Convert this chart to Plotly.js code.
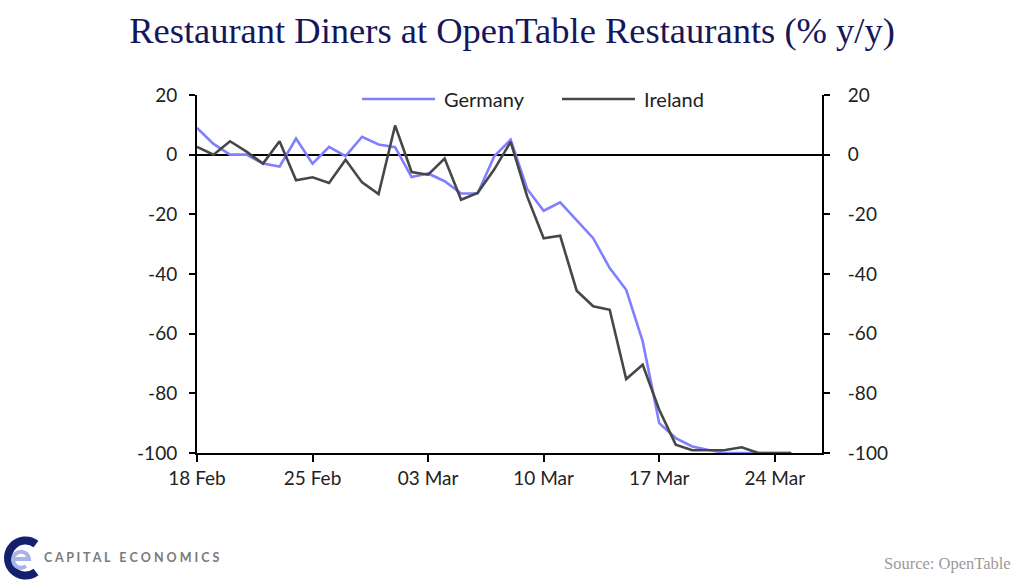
<!DOCTYPE html>
<html>
<head>
<meta charset="utf-8">
<script src="https://cdn.plot.ly/plotly-3.0.1.min.js"></script>
<style>html,body{margin:0;padding:0;background:#fff;}#chart{width:1024px;height:583px;}</style>
</head>
<body>
<div id="chart"></div>
<script>
// Daily dates, 18 Feb 2020 – 25 Mar 2020
const dates = ["2020-02-18","2020-02-19","2020-02-20","2020-02-21","2020-02-22","2020-02-23","2020-02-24","2020-02-25","2020-02-26","2020-02-27","2020-02-28","2020-02-29","2020-03-01","2020-03-02","2020-03-03","2020-03-04","2020-03-05","2020-03-06","2020-03-07","2020-03-08","2020-03-09","2020-03-10","2020-03-11","2020-03-12","2020-03-13","2020-03-14","2020-03-15","2020-03-16","2020-03-17","2020-03-18","2020-03-19","2020-03-20","2020-03-21","2020-03-22","2020-03-23","2020-03-24","2020-03-25"];
const germany = [9,3.6,0,0,-3,-4,5.4,-3,2.6,-0.5,6,3.4,2.5,-7.5,-6.3,-8.9,-13,-13,-0.6,5,-11.5,-18.8,-16,-22,-28,-38,-45.3,-62.6,-90,-95,-97.8,-99,-100,-100,-100,-100,-100];
const ireland = [2.6,0,4.5,1,-3,4.5,-8.6,-7.6,-9.5,-1.7,-9.3,-13.2,9.8,-5.8,-6.7,-1.3,-15.1,-12.8,-5,4.3,-14,-28,-27.2,-45.6,-50.8,-52,-75.2,-70.4,-85.5,-97.2,-99.1,-99,-99,-98.1,-100,-100,-100];
const xTickVals = ["2020-02-18","2020-02-25","2020-03-03","2020-03-10","2020-03-17","2020-03-24"];
const xTickText = ["18 Feb","25 Feb","03 Mar","10 Mar","17 Mar","24 Mar"];
const yTickVals = [-100,-80,-60,-40,-20,0,20];
const yTickText = ["-100","-80","-60","-40","-20","0","20"];
const seriesNames = ["Germany","Ireland"];
const seriesColors = ["#7f7fff","#474747"];
const titleText = "Restaurant Diners at OpenTable Restaurants (% y/y)";
const sourceText = "Source: OpenTable";
const brandText = "CAPITAL ECONOMICS";

const W = 1024, H = 583, L = 197, R = 822, T = 95, B = 453;
const px2x = p => (p - L) / (R - L);
const px2y = p => (B - p) / (B - T);

const tickFont = {family: "Lato, 'Open Sans', sans-serif", size: 19, color: "#222"};

const traces = [
  {x: dates, y: germany, name: seriesNames[0], type: "scatter", mode: "lines",
   line: {color: seriesColors[0], width: 2.6}},
  {x: dates, y: ireland, name: seriesNames[1], type: "scatter", mode: "lines", yaxis: "y2",
   line: {color: seriesColors[1], width: 2.6}}
];

const logoSvg = '<svg xmlns="http://www.w3.org/2000/svg" width="42" height="44" viewBox="0 0 42 44">' +
  '<path d="M35 8 A17.5 17.5 0 1 0 35 36" fill="none" stroke="#14206b" stroke-width="8"/>' +
  '<path d="M14 23 H28 A8 8 0 1 0 25 30" fill="none" stroke="#a9b4e6" stroke-width="4"/>' +
  '</svg>';

const brandSpaced = brandText.split(" ").map(w => w.split("").join(" ")).join("   ");

// legend drawn as line samples + labels
const legendLineStart = [362, 562];
const legendShapes = seriesNames.map((n, i) => ({
  type: "line", xref: "paper", yref: "paper",
  x0: px2x(legendLineStart[i]), x1: px2x(legendLineStart[i] + 73),
  y0: px2y(99), y1: px2y(99), line: {color: seriesColors[i], width: 2.6}
}));
const legendLabels = seriesNames.map((n, i) => ({
  text: n, xref: "paper", yref: "paper", x: px2x(legendLineStart[i] + 80), y: px2y(99),
  xanchor: "left", yanchor: "middle", showarrow: false,
  font: {family: "Lato, sans-serif", size: 20, color: "#222"}
}));

const layout = {
  width: W, height: H,
  margin: {l: L, r: W - R, t: T, b: H - B, pad: 0},
  paper_bgcolor: "#fff", plot_bgcolor: "#fff",
  showlegend: false,
  title: {text: titleText, x: 0.5, xref: "container", xanchor: "center",
          y: 1 - 30 / H, yref: "container", yanchor: "middle",
          font: {family: "'Liberation Serif', 'DejaVu Serif', serif", size: 36.5, color: "#16165a"}},
  xaxis: {type: "date", range: ["2020-02-18", "2020-03-26 20:40"],
          tickvals: xTickVals, ticktext: xTickText,
          showline: true, linecolor: "#000", linewidth: 2, mirror: false,
          ticks: "outside", ticklen: 7, tickwidth: 2, tickcolor: "#000",
          showgrid: false, zeroline: false, tickfont: tickFont, fixedrange: true},
  yaxis: {range: [-100, 20], tickvals: yTickVals, ticktext: yTickText, showline: true, linecolor: "#000", linewidth: 2,
          ticks: "outside", ticklen: 6, tickwidth: 2, tickcolor: "#000",
          showgrid: false, zeroline: true, zerolinecolor: "#000", zerolinewidth: 2,
          tickfont: tickFont, ticklabelstandoff: 8, fixedrange: true},
  yaxis2: {range: [-100, 20], tickvals: yTickVals, ticktext: yTickText, overlaying: "y", side: "right",
           showline: true, linecolor: "#000", linewidth: 2,
           ticks: "outside", ticklen: 6, tickwidth: 2, tickcolor: "#000",
           showgrid: false, zeroline: false, tickfont: tickFont, ticklabelstandoff: 14, fixedrange: true},
  shapes: legendShapes,
  images: [{source: "data:image/svg+xml;base64," + btoa(logoSvg),
            xref: "paper", yref: "paper", x: px2x(1), y: px2y(536),
            sizex: 42 / (R - L), sizey: 44 / (B - T), xanchor: "left", yanchor: "top",
            sizing: "stretch", layer: "above"}],
  annotations: legendLabels.concat([
    {text: "<b>" + brandSpaced + "</b>", xref: "paper", yref: "paper", x: px2x(42), y: px2y(557),
     xanchor: "left", yanchor: "middle", showarrow: false,
     font: {family: "Lato, sans-serif", size: 12.5, color: "#7a7a7a"}},
    {text: sourceText, xref: "paper", yref: "paper", x: px2x(1013), y: px2y(563),
     xanchor: "right", yanchor: "middle", showarrow: false,
     font: {family: "'Liberation Serif', serif", size: 16.5, color: "#9a9a9a"}}
  ])
};

Plotly.newPlot("chart", traces, layout, {displayModeBar: false, staticPlot: true});
</script>
</body>
</html>
